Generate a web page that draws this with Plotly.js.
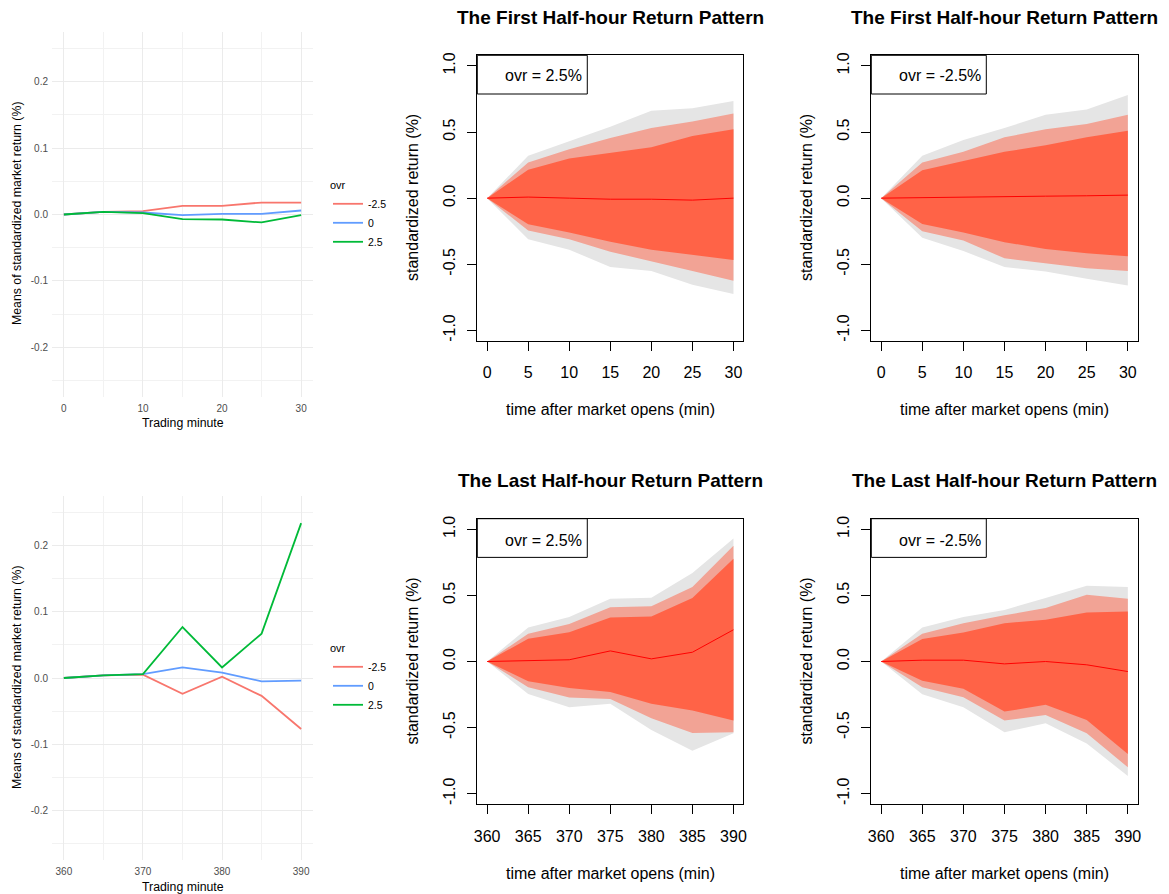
<!DOCTYPE html>
<html>
<head>
<meta charset="utf-8">
<script src="https://cdn.plot.ly/plotly-3.0.1.min.js"></script>
<style>html,body{margin:0;padding:0;background:#fff}#chart{width:1169px;height:894px}</style>
</head>
<body>
<div id="chart"></div>
<script>
// ---------- DATA ----------
const minutesOpen  = [0, 5, 10, 15, 20, 25, 30];
const minutesClose = [360, 365, 370, 375, 380, 385, 390];
const ovrLabels = ['-2.5', '0', '2.5'];

// Means of standardized market return (%), first half-hour
const openMeanNeg  = [0, 0.004, 0.005, 0.013, 0.013, 0.018, 0.018];
const openMeanZero = [0, 0.004, 0.003, -0.001, 0.001, 0.001, 0.006];
const openMeanPos  = [0, 0.004, 0.002, -0.007, -0.0075, -0.012, -0.001];
// Means, last half-hour
const closeMeanNeg  = [0, 0.004, 0.005, -0.024, 0.002, -0.027, -0.077];
const closeMeanZero = [0, 0.004, 0.006, 0.016, 0.008, -0.005, -0.004];
const closeMeanPos  = [0, 0.004, 0.006, 0.077, 0.016, 0.067, 0.234];

// Fan bands: first half-hour, ovr = 2.5%
const openPosOuterHi = [0, 0.32, 0.43, 0.54, 0.66, 0.68, 0.735];
const openPosMidHi   = [0, 0.27, 0.37, 0.455, 0.53, 0.58, 0.64];
const openPosInnerHi = [0, 0.215, 0.30, 0.34, 0.385, 0.47, 0.52];
const openPosMedian  = [0, 0.008, 0.0, -0.008, -0.008, -0.015, 0.0];
const openPosInnerLo = [0, -0.197, -0.26, -0.33, -0.39, -0.43, -0.467];
const openPosMidLo   = [0, -0.245, -0.31, -0.405, -0.48, -0.55, -0.624];
const openPosOuterLo = [0, -0.31, -0.39, -0.52, -0.55, -0.655, -0.725];

// first half-hour, ovr = -2.5%
const openNegOuterHi = [0, 0.32, 0.44, 0.53, 0.63, 0.67, 0.78];
const openNegMidHi   = [0, 0.27, 0.35, 0.46, 0.52, 0.56, 0.63];
const openNegInnerHi = [0, 0.21, 0.28, 0.35, 0.40, 0.46, 0.51];
const openNegMedian  = [0, 0.005, 0.008, 0.015, 0.015, 0.018, 0.023];
const openNegInnerLo = [0, -0.195, -0.26, -0.333, -0.384, -0.417, -0.44];
const openNegMidLo   = [0, -0.25, -0.32, -0.455, -0.49, -0.53, -0.55];
const openNegOuterLo = [0, -0.30, -0.40, -0.52, -0.555, -0.61, -0.66];

// last half-hour, ovr = 2.5%
const closePosOuterHi = [0, 0.258, 0.336, 0.475, 0.483, 0.67, 0.93];
const closePosMidHi   = [0, 0.21, 0.283, 0.41, 0.417, 0.563, 0.876];
const closePosInnerHi = [0, 0.172, 0.222, 0.333, 0.341, 0.48, 0.778];
const closePosMedian  = [0, 0.008, 0.013, 0.08, 0.02, 0.07, 0.24];
const closePosInnerLo = [0, -0.15, -0.2, -0.23, -0.32, -0.37, -0.447];
const closePosMidLo   = [0, -0.195, -0.273, -0.283, -0.43, -0.54, -0.535];
const closePosOuterLo = [0, -0.245, -0.346, -0.32, -0.518, -0.675, -0.543];

// last half-hour, ovr = -2.5%
const closeNegOuterHi = [0, 0.258, 0.336, 0.39, 0.48, 0.573, 0.563];
const closeNegMidHi   = [0, 0.21, 0.29, 0.35, 0.404, 0.505, 0.475];
const closeNegInnerHi = [0, 0.17, 0.22, 0.29, 0.316, 0.37, 0.378];
const closeNegMedian  = [0, 0.01, 0.01, -0.018, 0.0, -0.025, -0.076];
const closeNegInnerLo = [0, -0.146, -0.207, -0.379, -0.328, -0.442, -0.70];
const closeNegMidLo   = [0, -0.195, -0.27, -0.447, -0.404, -0.543, -0.80];
const closeNegOuterLo = [0, -0.247, -0.346, -0.535, -0.467, -0.62, -0.866];

const openTicks  = [0, 5, 10, 15, 20, 25, 30];
const closeTicks = [360, 365, 370, 375, 380, 385, 390];
const fanYTicks  = [-1, -0.5, 0, 0.5, 1];
const fanYText   = ['-1.0', '-0.5', '0.0', '0.5', '1.0'];
const ggOpenX    = [0, 10, 20, 30];
const ggCloseX   = [360, 370, 380, 390];
const ggYTicks   = [-0.2, -0.1, 0, 0.1, 0.2];
const ggYText    = ['-0.2', '-0.1', '0.0', '0.1', '0.2'];

// ---------- LAYOUT HELPERS ----------
const W = 1169, H = 894;
const FONT = 'Liberation Sans, Arial, sans-serif';
const px = (a, b) => [a / W, b / W];
const py = (top, bottom) => [1 - bottom / H, 1 - top / H];

const ggCols = ['#F8766D', '#619CFF', '#00BA38'];
const fanCols = {outer: '#E5E5E5', mid: '#F2A395', inner: '#FF6347', med: '#FF0000'};

const traces = [];

function ggLines(xs, series, xa, ya, legendName) {
  series.forEach((s, i) => {
    traces.push({
      x: xs, y: s, xaxis: xa, yaxis: ya, type: 'scatter', mode: 'lines',
      name: ovrLabels[i], legend: legendName,
      line: {color: ggCols[i], width: 1.8},
      hoverinfo: 'skip'
    });
  });
}
ggLines(minutesOpen, [openMeanNeg, openMeanZero, openMeanPos], 'x', 'y', 'legend');
ggLines(minutesClose, [closeMeanNeg, closeMeanZero, closeMeanPos], 'x2', 'y2', 'legend2');

function band(xs, hi, lo, color, xa, ya) {
  traces.push({
    x: xs.concat(xs.slice().reverse()),
    y: hi.concat(lo.slice().reverse()),
    xaxis: xa, yaxis: ya, type: 'scatter', mode: 'lines',
    fill: 'toself', fillcolor: color, line: {width: 0, color: color},
    showlegend: false, hoverinfo: 'skip'
  });
}
function fan(xs, d, xa, ya) {
  band(xs, d[0], d[6], fanCols.outer, xa, ya);
  band(xs, d[1], d[5], fanCols.mid, xa, ya);
  band(xs, d[2], d[4], fanCols.inner, xa, ya);
  traces.push({x: xs, y: d[3], xaxis: xa, yaxis: ya, type: 'scatter', mode: 'lines',
    line: {color: fanCols.med, width: 1}, showlegend: false, hoverinfo: 'skip'});
}
fan(minutesOpen, [openPosOuterHi, openPosMidHi, openPosInnerHi, openPosMedian, openPosInnerLo, openPosMidLo, openPosOuterLo], 'x3', 'y3');
fan(minutesOpen, [openNegOuterHi, openNegMidHi, openNegInnerHi, openNegMedian, openNegInnerLo, openNegMidLo, openNegOuterLo], 'x4', 'y4');
fan(minutesClose, [closePosOuterHi, closePosMidHi, closePosInnerHi, closePosMedian, closePosInnerLo, closePosMidLo, closePosOuterLo], 'x5', 'y5');
fan(minutesClose, [closeNegOuterHi, closeNegMidHi, closeNegInnerHi, closeNegMedian, closeNegInnerLo, closeNegMidLo, closeNegOuterLo], 'x6', 'y6');

function ggX(domain, range, ticks, anchor) {
  return {domain, range, anchor, tickvals: ticks, ticktext: ticks.map(String),
    showgrid: true, gridcolor: '#EBEBEB', gridwidth: 1, zeroline: false, showline: false,
    ticks: '', ticklabelstandoff: 4,
    minor: {dtick: (ticks[1] - ticks[0]) / 2, tick0: ticks[0] + (ticks[1] - ticks[0]) / 2, showgrid: true, gridcolor: '#F2F2F2', gridwidth: 1},
    tickfont: {family: FONT, size: 10, color: '#4D4D4D'}, fixedrange: true};
}
function ggY(domain, anchor) {
  return {domain, range: [-0.275, 0.275], anchor, tickvals: ggYTicks, ticktext: ggYText,
    showgrid: true, gridcolor: '#EBEBEB', gridwidth: 1, zeroline: false, showline: false,
    ticks: '', ticklabelstandoff: 3,
    minor: {dtick: 0.1, tick0: 0.05, showgrid: true, gridcolor: '#F2F2F2', gridwidth: 1},
    tickfont: {family: FONT, size: 10, color: '#4D4D4D'}, fixedrange: true};
}
function rX(domain, range, ticks, anchor) {
  return {domain, range, anchor, tickvals: ticks, ticktext: ticks.map(String),
    showgrid: false, zeroline: false, showline: true, mirror: true, linecolor: '#000', linewidth: 1,
    ticks: 'outside', ticklen: 9, tickwidth: 1, tickcolor: '#000', ticklabelstandoff: 8,
    tickfont: {family: FONT, size: 16, color: '#000'}, fixedrange: true};
}
function rY(domain, anchor) {
  return {domain, range: [-1.08, 1.08], anchor, tickvals: fanYTicks, ticktext: fanYText, tickangle: -90,
    showgrid: false, zeroline: false, showline: true, mirror: true, linecolor: '#000', linewidth: 1,
    ticks: 'outside', ticklen: 9, tickwidth: 1, tickcolor: '#000', ticklabelstandoff: 6,
    tickfont: {family: FONT, size: 16, color: '#000'}, fixedrange: true};
}

const dA = {x: px(52, 313), y: py(32, 397)};
const dB = {x: px(52, 313), y: py(496, 860)};
const dC = {x: px(477.3, 743.3), y: py(55.3, 341)};
const dD = {x: px(871.3, 1137.7), y: py(55.3, 341)};
const dE = {x: px(477.3, 743.3), y: py(518.7, 804.3)};
const dF = {x: px(871.3, 1137.7), y: py(518.7, 804.3)};

const ann = [];
function txt(x, y, text, opts) {
  ann.push(Object.assign({xref: 'paper', yref: 'paper', x: x / W, y: 1 - y / H, text,
    showarrow: false, xanchor: 'center', yanchor: 'middle',
    font: {family: FONT, size: 16, color: '#000'}}, opts || {}));
}
// ggplot axis titles
const ggTitleFont = {family: FONT, size: 12.3, color: '#000'};
txt(183, 423, 'Trading minute', {font: ggTitleFont});
txt(17, 213, 'Means of standardized market return (%)', {textangle: -90, font: ggTitleFont});
txt(183, 887, 'Trading minute', {font: ggTitleFont});
txt(17, 677, 'Means of standardized market return (%)', {textangle: -90, font: ggTitleFont});
// fan chart titles
const bold = {family: FONT, size: 19, color: '#000', weight: 'bold'};
txt(610.5, 18, '<b>The First Half-hour Return Pattern</b>', {font: bold});
txt(1004.5, 18, '<b>The First Half-hour Return Pattern</b>', {font: bold});
txt(610, 480, '<b>The Last Half-hour Return Pattern</b>', {font: bold});
txt(1004.5, 480, '<b>The Last Half-hour Return Pattern</b>', {font: bold});
// axis titles
[[610, 409, 412, 198], [1004.5, 409, 806, 198], [610, 873, 412, 661.5], [1004.5, 873, 806, 661.5]].forEach(p => {
  txt(p[0], p[1], 'time after market opens (min)');
  txt(p[2], p[3], 'standardized return (%)', {textangle: -90});
});
// legend box texts
txt(543, 76, 'ovr = 2.5%');
txt(939.5, 76, 'ovr = -2.5%');
txt(543, 540, 'ovr = 2.5%');
txt(939.5, 540, 'ovr = -2.5%');

const shapes = [];
[['x3', 'y3', 0.4135], ['x4', 'y4', (986.3 - 871.3) / 266.4], ['x5', 'y5', 0.4135], ['x6', 'y6', (986.3 - 871.3) / 266.4]].forEach(s => {
  shapes.push({type: 'rect', xref: s[0] + ' domain', yref: s[1] + ' domain',
    x0: 0, x1: s[2], y0: 1 - 38.7 / 285.7, y1: 1, line: {color: '#000', width: 1}, fillcolor: 'rgba(0,0,0,0)'});
});

const legendBase = {xanchor: 'left', yanchor: 'top', bgcolor: 'rgba(0,0,0,0)', borderwidth: 0,
  font: {family: FONT, size: 10.5, color: '#000'}, itemwidth: 30, tracegroupgap: 0,
  title: {text: 'ovr', font: {family: FONT, size: 11, color: '#000'}}};

const layout = {
  width: W, height: H, margin: {l: 0, r: 0, t: 0, b: 0},
  paper_bgcolor: '#fff', plot_bgcolor: 'rgba(0,0,0,0)',
  font: {family: FONT},
  showlegend: true,
  legend: Object.assign({}, legendBase, {x: 328 / W, y: 1 - 175 / H}),
  legend2: Object.assign({}, legendBase, {x: 328 / W, y: 1 - 638 / H}),
  xaxis: ggX(dA.x, [-1.5, 31.5], ggOpenX, 'y'),
  yaxis: ggY(dA.y, 'x'),
  xaxis2: ggX(dB.x, [358.5, 391.5], ggCloseX, 'y2'),
  yaxis2: ggY(dB.y, 'x2'),
  xaxis3: rX(dC.x, [-1.2, 31.2], openTicks, 'y3'),
  yaxis3: rY(dC.y, 'x3'),
  xaxis4: rX(dD.x, [-1.2, 31.2], openTicks, 'y4'),
  yaxis4: rY(dD.y, 'x4'),
  xaxis5: rX(dE.x, [358.8, 391.2], closeTicks, 'y5'),
  yaxis5: rY(dE.y, 'x5'),
  xaxis6: rX(dF.x, [358.8, 391.2], closeTicks, 'y6'),
  yaxis6: rY(dF.y, 'x6'),
  annotations: ann,
  shapes: shapes
};

Plotly.newPlot('chart', traces, layout, {staticPlot: true, displayModeBar: false});
</script>
</body>
</html>
